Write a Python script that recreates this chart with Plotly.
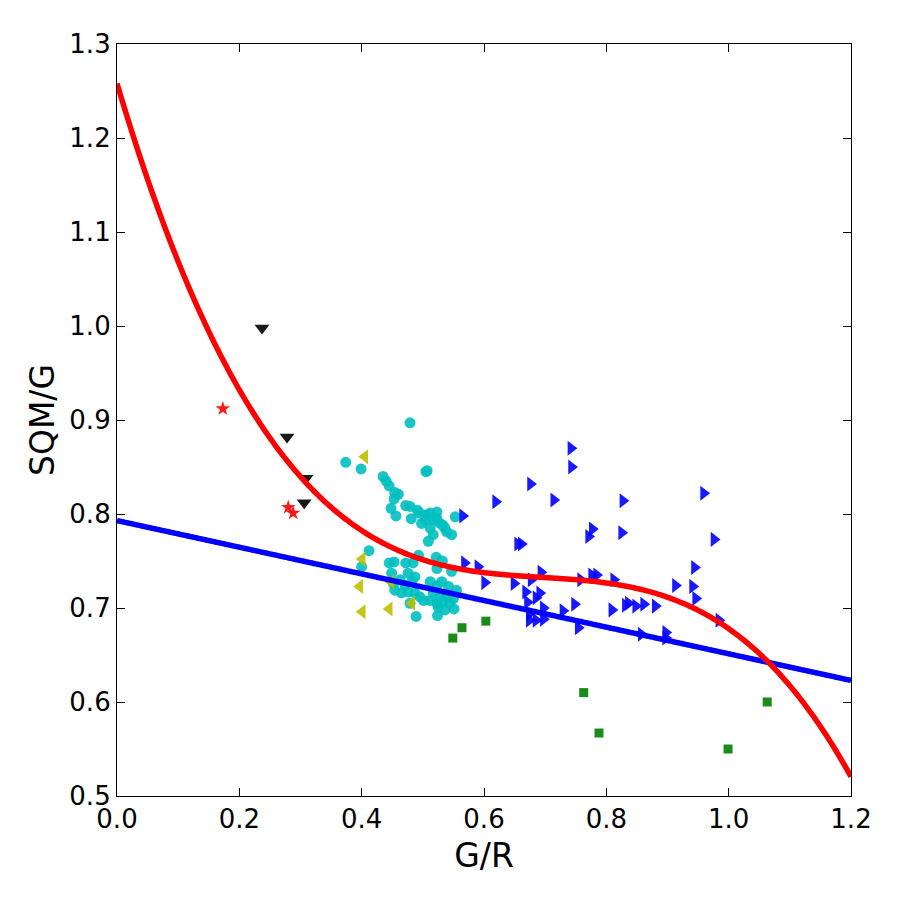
import numpy as np
import plotly.graph_objects as go

# ---------------- data ----------------
cyan_x = [0.479, 0.374, 0.399, 0.505, 0.507, 0.435, 0.440, 0.445, 0.454, 0.460,
          0.453, 0.448, 0.456, 0.472, 0.479, 0.491, 0.481, 0.495, 0.506, 0.512,
          0.498, 0.517, 0.523, 0.528, 0.512, 0.517, 0.509, 0.539, 0.547, 0.553,
          0.533, 0.504, 0.523, 0.536,
          0.412, 0.400, 0.445, 0.453, 0.472, 0.484, 0.493, 0.522, 0.532, 0.523,
          0.547, 0.449, 0.476, 0.487, 0.452, 0.463, 0.471, 0.482, 0.454, 0.465,
          0.476, 0.487, 0.495, 0.512, 0.523, 0.531, 0.542, 0.555, 0.517, 0.528,
          0.539, 0.550, 0.512, 0.523, 0.533, 0.544, 0.551, 0.536, 0.525, 0.489,
          0.524, 0.479, 0.501]
cyan_y = [0.897, 0.855, 0.848, 0.845, 0.846, 0.840, 0.835, 0.830, 0.823, 0.821,
          0.816, 0.806, 0.798, 0.809, 0.808, 0.804, 0.795, 0.801, 0.799, 0.801,
          0.790, 0.794, 0.795, 0.790, 0.785, 0.778, 0.771, 0.781, 0.778, 0.797,
          0.788, 0.794, 0.802, 0.785,
          0.761, 0.744, 0.748, 0.749, 0.748, 0.748, 0.756, 0.754, 0.750, 0.742,
          0.739, 0.737, 0.737, 0.733, 0.726, 0.730, 0.724, 0.728, 0.719, 0.716,
          0.717, 0.716, 0.712, 0.728, 0.724, 0.728, 0.723, 0.719, 0.716, 0.712,
          0.712, 0.710, 0.708, 0.705, 0.707, 0.705, 0.699, 0.698, 0.701, 0.691,
          0.692, 0.705, 0.708]

blue_x = [0.742, 0.743, 0.676, 0.619, 0.714, 0.827, 0.959, 0.565, 0.777, 0.771,
          0.825, 0.976, 0.655, 0.661, 0.568, 0.590, 0.601, 0.693, 0.649, 0.677,
          0.758, 0.776, 0.784, 0.812, 0.944, 0.913, 0.941, 0.946, 0.668, 0.691,
          0.685, 0.671, 0.697, 0.674, 0.674, 0.685, 0.697, 0.729, 0.748, 0.754,
          0.809, 0.831, 0.848, 0.861, 0.880, 0.857, 0.897, 0.897, 0.984, 0.836]
blue_y = [0.870, 0.850, 0.832, 0.813, 0.815, 0.814, 0.822, 0.798, 0.784, 0.776,
          0.780, 0.773, 0.768, 0.768, 0.748, 0.744, 0.727, 0.738, 0.726, 0.730,
          0.730, 0.735, 0.735, 0.730, 0.743, 0.724, 0.723, 0.710, 0.717, 0.716,
          0.711, 0.706, 0.700, 0.694, 0.687, 0.687, 0.688, 0.697, 0.704, 0.679,
          0.698, 0.703, 0.702, 0.704, 0.702, 0.672, 0.674, 0.668, 0.687, 0.705]

green_x = [0.549, 0.564, 0.603, 0.763, 0.788, 0.999, 1.063]
green_y = [0.668, 0.679, 0.686, 0.610, 0.567, 0.550, 0.600]

black_x = [0.237, 0.278, 0.309, 0.306]
black_y = [0.998, 0.882, 0.838, 0.812]

red_x = [0.173, 0.280, 0.288]
red_y = [0.912, 0.807, 0.801]

yellow_x = [0.405, 0.401, 0.397, 0.401, 0.445, 0.482, 0.448]
yellow_y = [0.861, 0.752, 0.723, 0.696, 0.699, 0.705, 0.728]

# fitted curves (coefficients, low -> high order)
linear_coef = [0.793, -0.1417]
cubic_coef = [1.258, -2.189, 3.094, -1.485]

x_range = [0.0, 1.2]
y_range = [0.5, 1.3]
x_ticks = [0.0, 0.2, 0.4, 0.6, 0.8, 1.0, 1.2]
y_ticks = [0.5, 0.6, 0.7, 0.8, 0.9, 1.0, 1.1, 1.2, 1.3]

# ---------------- figure ----------------
fig = go.Figure()

def sc(x, y, symbol, color, size, opacity=1.0):
    fig.add_trace(go.Scatter(x=x, y=y, mode="markers",
                             marker=dict(symbol=symbol, color=color, size=size,
                                         opacity=opacity, line=dict(width=0)),
                             showlegend=False))

sc(cyan_x, cyan_y, "circle", "#00BFBF", 11, 0.9)
sc(blue_x, blue_y, "triangle-right", "#0000FF", 13, 0.9)
sc(green_x, green_y, "square", "#008000", 9, 0.9)
sc(black_x, black_y, "triangle-down", "#000000", 13, 0.9)
sc(red_x, red_y, "star", "#FF0000", 11, 0.9)
sc(yellow_x, yellow_y, "triangle-left", "#BFBF00", 13, 0.9)

xs = np.linspace(x_range[0], x_range[1], 400)
lin = np.polynomial.polynomial.polyval(xs, linear_coef)
cub = np.polynomial.polynomial.polyval(xs, cubic_coef)
fig.add_trace(go.Scatter(x=xs, y=lin, mode="lines",
                         line=dict(color="#0000FF", width=5.5, simplify=False),
                         showlegend=False))
fig.add_trace(go.Scatter(x=xs, y=cub, mode="lines",
                         line=dict(color="#FF0000", width=5.5, simplify=False),
                         showlegend=False))

axis_common = dict(showline=True, linecolor="black", linewidth=1.2, mirror="ticks",
                   ticks="inside", ticklen=8, tickwidth=1, tickcolor="black",
                   showgrid=False, zeroline=False,
                   tickfont=dict(family="DejaVu Sans", size=26, color="black"))

fig.update_xaxes(range=x_range, tickvals=x_ticks,
                 ticktext=[f"{v:.1f}" for v in x_ticks],
                 title=dict(text="G/R", font=dict(family="DejaVu Sans", size=33, color="black"),
                            standoff=10),
                 **axis_common)
fig.update_yaxes(range=y_range, tickvals=y_ticks,
                 ticktext=[f"{v:.1f}" for v in y_ticks],
                 title=dict(text="SQM/G", font=dict(family="DejaVu Sans", size=33, color="black"),
                            standoff=4),
                 **axis_common)

fig.update_layout(width=900, height=900, plot_bgcolor="white", paper_bgcolor="white",
                  margin=dict(l=117, r=49, t=44, b=104), showlegend=False)

fig.write_html("out.html")
